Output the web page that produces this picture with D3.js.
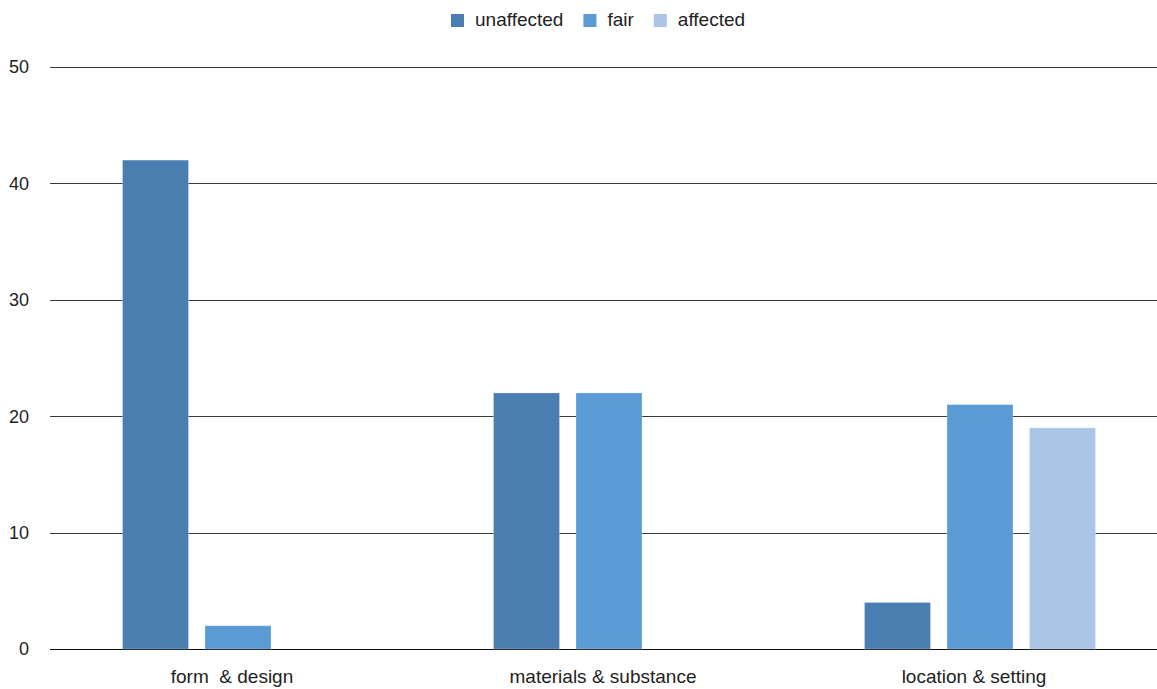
<!DOCTYPE html>
<html>
<head>
<meta charset="utf-8">
<script src="https://cdn.jsdelivr.net/npm/d3@7"></script>
<style>
  html, body { margin: 0; padding: 0; background: #fff; }
  svg { display: block; font-family: "Liberation Sans", Arial, sans-serif; }
</style>
</head>
<body>
<svg id="chart" width="1157" height="689"></svg>
<script>
// Chart data
const categories = ["form  & design", "materials & substance", "location & setting"];
const series = ["unaffected", "fair", "affected"];
const unaffected = [42, 22, 4];
const fair = [2, 22, 21];
const affected = [0, 0, 19];
const yTicks = [0, 10, 20, 30, 40, 50];
const colors = ["#4a7eb0", "#5b9bd5", "#abc5e6"];

const values = [unaffected, fair, affected];

const svg = d3.select("#chart");

const y = d3.scaleLinear().domain([0, 50]).range([649, 67]);
const x0 = d3.scaleBand().domain(categories).range([46.5, 1159.5]).padding(0);
const x1 = d3.scaleBand().domain(series).range([76, 307]).paddingInner(0.2).paddingOuter(0);

// Horizontal gridlines
const gridLeft = 50, gridRight = 1157;
svg.append("g").selectAll("line")
  .data(yTicks)
  .join("line")
  .attr("x1", gridLeft).attr("x2", gridRight)
  .attr("y1", d => Math.round(y(d)) + 0.5)
  .attr("y2", d => Math.round(y(d)) + 0.5)
  .attr("stroke", d => d === 0 ? "#111" : "#3a3a3a")
  .attr("stroke-width", 1);

// Y tick labels
svg.append("g").selectAll("text")
  .data(yTicks)
  .join("text")
  .attr("x", 29)
  .attr("y", d => y(d))
  .attr("dy", "0.35em")
  .attr("text-anchor", "end")
  .attr("font-size", 18)
  .attr("fill", "#222")
  .text(d => d);

// Bars
const groups = svg.append("g").selectAll("g")
  .data(categories)
  .join("g")
  .attr("transform", d => `translate(${x0(d)},0)`);

groups.selectAll("rect")
  .data((c, ci) => series.map((s, si) => ({ s, si, v: values[si][ci] })).filter(d => d.v > 0))
  .join("rect")
  .attr("x", d => x1(d.s))
  .attr("width", x1.bandwidth())
  .attr("y", d => y(d.v))
  .attr("height", d => y(0) - y(d.v))
  .attr("fill", d => colors[d.si])
  .attr("stroke", "rgba(255,255,255,0.25)")
  .attr("stroke-width", 1);

// Category labels
svg.append("g").selectAll("text")
  .data(categories)
  .join("text")
  .attr("x", d => x0(d) + x0.bandwidth() / 2)
  .attr("y", 683)
  .attr("text-anchor", "middle")
  .attr("font-size", 19)
  .attr("fill", "#222")
  .style("white-space", "pre")
  .text(d => d);

// Legend
const legend = svg.append("g");
let lx = 451;
series.forEach((s, i) => {
  legend.append("rect")
    .attr("x", lx).attr("y", 14)
    .attr("width", 13).attr("height", 13)
    .attr("fill", colors[i]);
  const t = legend.append("text")
    .attr("x", lx + 24).attr("y", 26)
    .attr("font-size", 19)
    .attr("fill", "#222")
    .text(s);
  lx += 24 + t.node().getComputedTextLength() + 20;
});
</script>
</body>
</html>
